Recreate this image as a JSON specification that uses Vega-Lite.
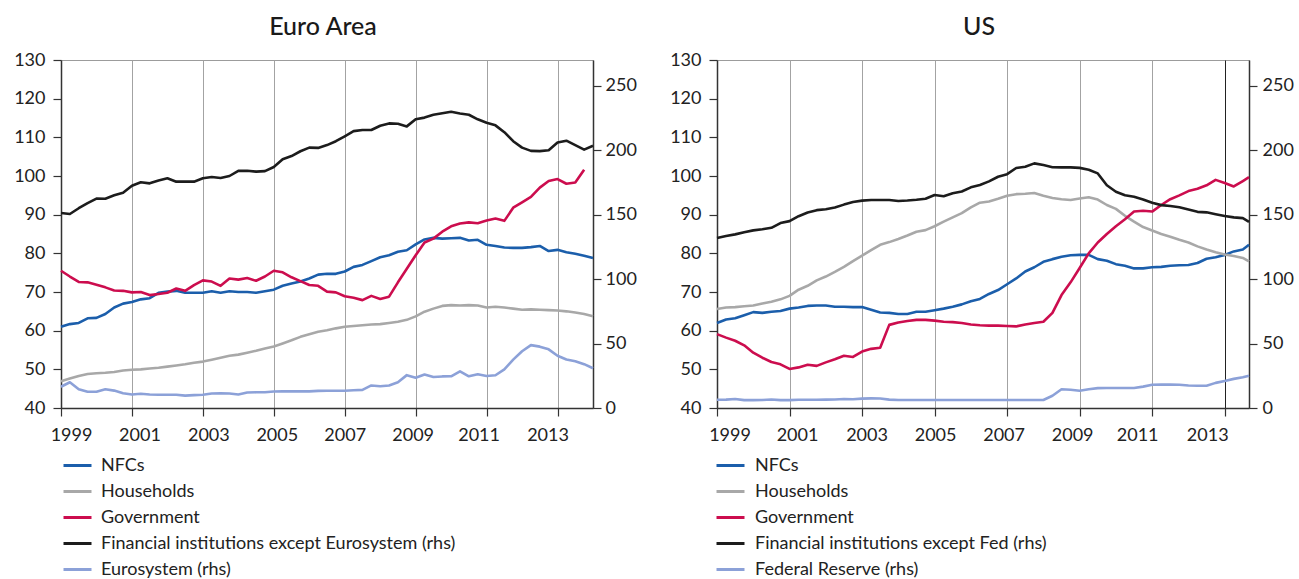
{
  "$schema": "https://vega.github.io/schema/vega-lite/v6.json",
  "background": "white",
  "padding": {"left": 13, "top": 14, "right": 5, "bottom": 5},
  "bounds": "flush",
  "spacing": 124,
  "datasets": {
    "ea": [
      {"t": 1999.0, "nfc": 61.0, "hh": 46.9, "gov": 75.5, "fin": 151.3, "cb": 16.5},
      {"t": 1999.25, "nfc": 61.7, "hh": 47.6, "gov": 74.0, "fin": 150.5, "cb": 20.0},
      {"t": 1999.5, "nfc": 62.0, "hh": 48.3, "gov": 72.6, "fin": 155.0, "cb": 14.6},
      {"t": 1999.75, "nfc": 63.2, "hh": 48.8, "gov": 72.5, "fin": 159.0, "cb": 12.6},
      {"t": 2000.0, "nfc": 63.3, "hh": 49.0, "gov": 71.9, "fin": 162.5, "cb": 12.6},
      {"t": 2000.25, "nfc": 64.3, "hh": 49.1, "gov": 71.2, "fin": 162.4, "cb": 14.5},
      {"t": 2000.5, "nfc": 66.0, "hh": 49.3, "gov": 70.4, "fin": 165.0, "cb": 13.5},
      {"t": 2000.75, "nfc": 67.0, "hh": 49.7, "gov": 70.3, "fin": 167.0, "cb": 11.5},
      {"t": 2001.0, "nfc": 67.4, "hh": 49.9, "gov": 69.9, "fin": 172.5, "cb": 10.5},
      {"t": 2001.25, "nfc": 68.1, "hh": 50.0, "gov": 70.0, "fin": 175.2, "cb": 11.0},
      {"t": 2001.5, "nfc": 68.4, "hh": 50.2, "gov": 69.2, "fin": 174.3, "cb": 10.5},
      {"t": 2001.75, "nfc": 69.8, "hh": 50.4, "gov": 69.5, "fin": 176.5, "cb": 10.3},
      {"t": 2002.0, "nfc": 70.1, "hh": 50.7, "gov": 69.8, "fin": 178.2, "cb": 10.3},
      {"t": 2002.25, "nfc": 70.3, "hh": 51.0, "gov": 70.9, "fin": 175.6, "cb": 10.3},
      {"t": 2002.5, "nfc": 69.8, "hh": 51.3, "gov": 70.3, "fin": 175.6, "cb": 9.6},
      {"t": 2002.75, "nfc": 69.8, "hh": 51.7, "gov": 71.8, "fin": 175.6, "cb": 10.0},
      {"t": 2003.0, "nfc": 69.8, "hh": 52.0, "gov": 73.0, "fin": 178.2, "cb": 10.3},
      {"t": 2003.25, "nfc": 70.2, "hh": 52.5, "gov": 72.7, "fin": 179.2, "cb": 11.3},
      {"t": 2003.5, "nfc": 69.8, "hh": 53.0, "gov": 71.6, "fin": 178.4, "cb": 11.4},
      {"t": 2003.75, "nfc": 70.2, "hh": 53.5, "gov": 73.5, "fin": 180.0, "cb": 11.3},
      {"t": 2004.0, "nfc": 70.0, "hh": 53.8, "gov": 73.2, "fin": 184.0, "cb": 10.5},
      {"t": 2004.25, "nfc": 70.0, "hh": 54.3, "gov": 73.6, "fin": 184.1, "cb": 12.0},
      {"t": 2004.5, "nfc": 69.8, "hh": 54.8, "gov": 72.9, "fin": 183.4, "cb": 12.2},
      {"t": 2004.75, "nfc": 70.2, "hh": 55.4, "gov": 74.0, "fin": 183.8, "cb": 12.2},
      {"t": 2005.0, "nfc": 70.6, "hh": 55.9, "gov": 75.5, "fin": 187.0, "cb": 12.8},
      {"t": 2005.25, "nfc": 71.6, "hh": 56.7, "gov": 75.1, "fin": 193.0, "cb": 12.9},
      {"t": 2005.5, "nfc": 72.2, "hh": 57.5, "gov": 73.8, "fin": 195.5, "cb": 12.9},
      {"t": 2005.75, "nfc": 72.7, "hh": 58.4, "gov": 72.8, "fin": 199.2, "cb": 12.9},
      {"t": 2006.0, "nfc": 73.5, "hh": 59.1, "gov": 71.8, "fin": 202.0, "cb": 12.9},
      {"t": 2006.25, "nfc": 74.5, "hh": 59.7, "gov": 71.6, "fin": 201.8, "cb": 13.3},
      {"t": 2006.5, "nfc": 74.7, "hh": 60.1, "gov": 70.1, "fin": 204.0, "cb": 13.4},
      {"t": 2006.75, "nfc": 74.7, "hh": 60.6, "gov": 69.9, "fin": 207.0, "cb": 13.4},
      {"t": 2007.0, "nfc": 75.3, "hh": 61.0, "gov": 68.9, "fin": 210.8, "cb": 13.4},
      {"t": 2007.25, "nfc": 76.5, "hh": 61.2, "gov": 68.5, "fin": 214.8, "cb": 13.8},
      {"t": 2007.5, "nfc": 77.0, "hh": 61.4, "gov": 67.9, "fin": 215.7, "cb": 14.1},
      {"t": 2007.75, "nfc": 78.0, "hh": 61.6, "gov": 69.0, "fin": 215.7, "cb": 17.5},
      {"t": 2008.0, "nfc": 79.0, "hh": 61.7, "gov": 68.2, "fin": 219.0, "cb": 16.9},
      {"t": 2008.25, "nfc": 79.5, "hh": 62.0, "gov": 68.8, "fin": 220.8, "cb": 17.5},
      {"t": 2008.5, "nfc": 80.4, "hh": 62.3, "gov": 72.5, "fin": 220.5, "cb": 20.0},
      {"t": 2008.75, "nfc": 80.8, "hh": 62.8, "gov": 76.0, "fin": 218.5, "cb": 25.5},
      {"t": 2009.0, "nfc": 82.3, "hh": 63.7, "gov": 79.5, "fin": 224.0, "cb": 23.5},
      {"t": 2009.25, "nfc": 83.6, "hh": 64.9, "gov": 82.8, "fin": 225.3, "cb": 26.0},
      {"t": 2009.5, "nfc": 84.0, "hh": 65.7, "gov": 83.8, "fin": 227.5, "cb": 24.0},
      {"t": 2009.75, "nfc": 83.8, "hh": 66.4, "gov": 85.6, "fin": 228.7, "cb": 24.5},
      {"t": 2010.0, "nfc": 83.9, "hh": 66.6, "gov": 87.0, "fin": 229.8, "cb": 24.6},
      {"t": 2010.25, "nfc": 84.0, "hh": 66.5, "gov": 87.7, "fin": 228.5, "cb": 28.5},
      {"t": 2010.5, "nfc": 83.3, "hh": 66.6, "gov": 88.0, "fin": 227.5, "cb": 24.6},
      {"t": 2010.75, "nfc": 83.5, "hh": 66.5, "gov": 87.8, "fin": 224.0, "cb": 26.2},
      {"t": 2011.0, "nfc": 82.2, "hh": 66.0, "gov": 88.5, "fin": 221.3, "cb": 24.8},
      {"t": 2011.25, "nfc": 81.9, "hh": 66.2, "gov": 89.0, "fin": 219.3, "cb": 25.4},
      {"t": 2011.5, "nfc": 81.5, "hh": 66.0, "gov": 88.4, "fin": 214.0, "cb": 30.0},
      {"t": 2011.75, "nfc": 81.4, "hh": 65.7, "gov": 91.8, "fin": 207.0, "cb": 37.5},
      {"t": 2012.0, "nfc": 81.4, "hh": 65.4, "gov": 93.2, "fin": 202.0, "cb": 44.0},
      {"t": 2012.25, "nfc": 81.6, "hh": 65.5, "gov": 94.6, "fin": 199.5, "cb": 48.8},
      {"t": 2012.5, "nfc": 81.9, "hh": 65.4, "gov": 97.0, "fin": 199.3, "cb": 47.6},
      {"t": 2012.75, "nfc": 80.6, "hh": 65.3, "gov": 98.7, "fin": 200.0, "cb": 45.5},
      {"t": 2013.0, "nfc": 80.9, "hh": 65.2, "gov": 99.2, "fin": 206.0, "cb": 40.5},
      {"t": 2013.25, "nfc": 80.3, "hh": 65.0, "gov": 98.0, "fin": 207.4, "cb": 37.6},
      {"t": 2013.5, "nfc": 79.9, "hh": 64.7, "gov": 98.3, "fin": 204.0, "cb": 36.2},
      {"t": 2013.75, "nfc": 79.4, "hh": 64.3, "gov": 101.6, "fin": 200.5, "cb": 34.0},
      {"t": 2014.0, "nfc": 78.8, "hh": 63.7, "gov": null, "fin": 203.5, "cb": 30.8}
    ],
    "us": [
      {"t": 1999.0, "nfc": 62.0, "hh": 65.6, "gov": 59.1, "fin": 131.9, "cb": 6.4},
      {"t": 1999.25, "nfc": 62.9, "hh": 66.0, "gov": 58.2, "fin": 133.5, "cb": 6.5},
      {"t": 1999.5, "nfc": 63.2, "hh": 66.1, "gov": 57.4, "fin": 134.7, "cb": 7.0},
      {"t": 1999.75, "nfc": 64.0, "hh": 66.3, "gov": 56.2, "fin": 136.4, "cb": 6.1},
      {"t": 2000.0, "nfc": 64.8, "hh": 66.5, "gov": 54.3, "fin": 137.8, "cb": 6.1},
      {"t": 2000.25, "nfc": 64.6, "hh": 67.0, "gov": 53.0, "fin": 138.7, "cb": 6.2},
      {"t": 2000.5, "nfc": 64.9, "hh": 67.5, "gov": 51.9, "fin": 139.8, "cb": 6.6},
      {"t": 2000.75, "nfc": 65.1, "hh": 68.1, "gov": 51.3, "fin": 143.5, "cb": 6.1},
      {"t": 2001.0, "nfc": 65.7, "hh": 69.0, "gov": 50.1, "fin": 145.0, "cb": 6.1},
      {"t": 2001.25, "nfc": 66.0, "hh": 70.6, "gov": 50.5, "fin": 148.8, "cb": 6.4},
      {"t": 2001.5, "nfc": 66.4, "hh": 71.6, "gov": 51.2, "fin": 151.7, "cb": 6.4},
      {"t": 2001.75, "nfc": 66.5, "hh": 73.0, "gov": 50.9, "fin": 153.5, "cb": 6.4},
      {"t": 2002.0, "nfc": 66.5, "hh": 74.0, "gov": 51.8, "fin": 154.2, "cb": 6.5},
      {"t": 2002.25, "nfc": 66.2, "hh": 75.2, "gov": 52.6, "fin": 155.5, "cb": 6.6},
      {"t": 2002.5, "nfc": 66.2, "hh": 76.5, "gov": 53.5, "fin": 157.8, "cb": 7.0},
      {"t": 2002.75, "nfc": 66.1, "hh": 78.0, "gov": 53.2, "fin": 159.8, "cb": 6.8},
      {"t": 2003.0, "nfc": 66.1, "hh": 79.4, "gov": 54.6, "fin": 160.9, "cb": 7.3},
      {"t": 2003.25, "nfc": 65.4, "hh": 80.8, "gov": 55.3, "fin": 161.4, "cb": 7.5},
      {"t": 2003.5, "nfc": 64.7, "hh": 82.2, "gov": 55.6, "fin": 161.4, "cb": 7.4},
      {"t": 2003.75, "nfc": 64.6, "hh": 82.9, "gov": 61.5, "fin": 161.4, "cb": 6.5},
      {"t": 2004.0, "nfc": 64.3, "hh": 83.7, "gov": 62.1, "fin": 160.6, "cb": 6.2},
      {"t": 2004.25, "nfc": 64.3, "hh": 84.6, "gov": 62.5, "fin": 161.0, "cb": 6.2},
      {"t": 2004.5, "nfc": 64.9, "hh": 85.6, "gov": 62.8, "fin": 161.6, "cb": 6.2},
      {"t": 2004.75, "nfc": 64.9, "hh": 86.0, "gov": 62.8, "fin": 162.4, "cb": 6.2},
      {"t": 2005.0, "nfc": 65.3, "hh": 87.0, "gov": 62.6, "fin": 165.3, "cb": 6.2},
      {"t": 2005.25, "nfc": 65.7, "hh": 88.2, "gov": 62.3, "fin": 164.3, "cb": 6.2},
      {"t": 2005.5, "nfc": 66.2, "hh": 89.3, "gov": 62.2, "fin": 166.6, "cb": 6.2},
      {"t": 2005.75, "nfc": 66.8, "hh": 90.4, "gov": 62.0, "fin": 168.0, "cb": 6.2},
      {"t": 2006.0, "nfc": 67.6, "hh": 91.9, "gov": 61.6, "fin": 171.2, "cb": 6.2},
      {"t": 2006.25, "nfc": 68.2, "hh": 93.1, "gov": 61.4, "fin": 173.0, "cb": 6.2},
      {"t": 2006.5, "nfc": 69.5, "hh": 93.4, "gov": 61.3, "fin": 175.8, "cb": 6.2},
      {"t": 2006.75, "nfc": 70.5, "hh": 94.1, "gov": 61.3, "fin": 179.4, "cb": 6.2},
      {"t": 2007.0, "nfc": 72.0, "hh": 94.9, "gov": 61.2, "fin": 181.4, "cb": 6.2},
      {"t": 2007.25, "nfc": 73.5, "hh": 95.3, "gov": 61.1, "fin": 186.2, "cb": 6.2},
      {"t": 2007.5, "nfc": 75.3, "hh": 95.4, "gov": 61.6, "fin": 187.2, "cb": 6.2},
      {"t": 2007.75, "nfc": 76.4, "hh": 95.6, "gov": 62.0, "fin": 189.8, "cb": 6.2},
      {"t": 2008.0, "nfc": 77.8, "hh": 94.9, "gov": 62.3, "fin": 188.5, "cb": 6.2},
      {"t": 2008.25, "nfc": 78.5, "hh": 94.3, "gov": 64.6, "fin": 186.8, "cb": 9.5},
      {"t": 2008.5, "nfc": 79.1, "hh": 94.0, "gov": 69.2, "fin": 186.7, "cb": 14.5},
      {"t": 2008.75, "nfc": 79.5, "hh": 93.8, "gov": 72.5, "fin": 186.7, "cb": 14.2},
      {"t": 2009.0, "nfc": 79.6, "hh": 94.2, "gov": 76.2, "fin": 186.3, "cb": 13.4},
      {"t": 2009.25, "nfc": 79.6, "hh": 94.5, "gov": 80.0, "fin": 184.9, "cb": 14.6},
      {"t": 2009.5, "nfc": 78.5, "hh": 93.9, "gov": 82.8, "fin": 182.0, "cb": 15.4},
      {"t": 2009.75, "nfc": 78.1, "hh": 92.5, "gov": 85.0, "fin": 172.8, "cb": 15.5},
      {"t": 2010.0, "nfc": 77.2, "hh": 91.5, "gov": 87.0, "fin": 167.8, "cb": 15.5},
      {"t": 2010.25, "nfc": 76.8, "hh": 89.7, "gov": 88.8, "fin": 165.1, "cb": 15.5},
      {"t": 2010.5, "nfc": 76.1, "hh": 88.2, "gov": 90.8, "fin": 163.9, "cb": 15.5},
      {"t": 2010.75, "nfc": 76.1, "hh": 86.8, "gov": 91.0, "fin": 161.8, "cb": 16.6},
      {"t": 2011.0, "nfc": 76.4, "hh": 85.9, "gov": 90.8, "fin": 159.3, "cb": 18.0},
      {"t": 2011.25, "nfc": 76.5, "hh": 85.0, "gov": 92.5, "fin": 157.4, "cb": 18.1},
      {"t": 2011.5, "nfc": 76.8, "hh": 84.3, "gov": 94.0, "fin": 156.7, "cb": 18.1},
      {"t": 2011.75, "nfc": 76.9, "hh": 83.5, "gov": 95.0, "fin": 155.8, "cb": 18.0},
      {"t": 2012.0, "nfc": 77.0, "hh": 82.8, "gov": 96.1, "fin": 154.0, "cb": 17.4},
      {"t": 2012.25, "nfc": 77.5, "hh": 81.8, "gov": 96.7, "fin": 152.2, "cb": 17.3},
      {"t": 2012.5, "nfc": 78.6, "hh": 81.0, "gov": 97.6, "fin": 151.8, "cb": 17.3},
      {"t": 2012.75, "nfc": 79.0, "hh": 80.3, "gov": 99.0, "fin": 150.4, "cb": 19.5},
      {"t": 2013.0, "nfc": 79.6, "hh": 79.7, "gov": 98.2, "fin": 149.0, "cb": 21.0},
      {"t": 2013.25, "nfc": 80.5, "hh": 79.3, "gov": 97.3, "fin": 147.9, "cb": 22.6},
      {"t": 2013.5, "nfc": 81.0, "hh": 78.8, "gov": 98.7, "fin": 147.3, "cb": 23.8},
      {"t": 2013.67, "nfc": 82.2, "hh": 77.9, "gov": 99.7, "fin": 144.5, "cb": 25.1}
    ]
  },
  "hconcat": [
    {
      "title": {"text": "Euro Area", "dx": -4},
      "width": 532,
      "height": 348,
      "data": {"name": "ea"},
      "layer": [
        {
          "transform": [{"fold": ["nfc", "hh", "gov"], "as": ["k", "v"]}],
          "mark": {"type": "line", "strokeWidth": 2.6},
          "encoding": {
            "x": {"field": "t", "type": "quantitative", "scale": {"domain": [1999, 2014], "nice": false, "zero": false},
              "axis": {"title": null, "values": [1999, 2001, 2003, 2005, 2007, 2009, 2011, 2013], "format": "d", "grid": true, "labelFlush": false, "labelOverlap": false, "labelPadding": 10,
                "labelOffset": {"condition": [{"test": "datum.value == 1999", "value": 10}, {"test": "datum.value == 2001", "value": 7.5}, {"test": "datum.value == 2003", "value": 5.5}, {"test": "datum.value == 2005", "value": 3}, {"test": "datum.value == 2007", "value": 0}, {"test": "datum.value == 2009", "value": -3}, {"test": "datum.value == 2011", "value": -8}], "value": -10}}},
            "y": {"field": "v", "type": "quantitative", "scale": {"domain": [40, 130], "nice": false, "zero": false},
              "axis": {"title": null, "values": [40, 50, 60, 70, 80, 90, 100, 110, 120, 130], "grid": false, "labelPadding": 8}},
            "color": {"field": "k", "type": "nominal",
              "scale": {"domain": ["nfc", "hh", "gov", "fin", "cb"], "range": ["#1b5eab", "#a8a8a8", "#cc0d4e", "#1c1c1c", "#8ca1d8"]},
              "legend": {"title": null, "orient": "none", "legendX": 1, "legendY": 390, "direction": "vertical", "labelOffset": 8, "symbolSize": 784,
                "labelExpr": "datum.label == 'nfc' ? 'NFCs' : datum.label == 'hh' ? 'Households' : datum.label == 'gov' ? 'Government' : datum.label == 'fin' ? 'Financial institutions except Eurosystem (rhs)' : 'Eurosystem (rhs)'"}}
          }
        },
        {
          "transform": [{"fold": ["fin", "cb"], "as": ["k", "v"]}],
          "mark": {"type": "line", "strokeWidth": 2.6},
          "encoding": {
            "x": {"field": "t", "type": "quantitative", "scale": {"domain": [1999, 2014], "nice": false, "zero": false},
              "axis": {"title": null, "values": [1999, 2001, 2003, 2005, 2007, 2009, 2011, 2013], "format": "d", "grid": true, "labelFlush": false, "labelOverlap": false, "labelPadding": 10,
                "labelOffset": {"condition": [{"test": "datum.value == 1999", "value": 10}, {"test": "datum.value == 2001", "value": 7.5}, {"test": "datum.value == 2003", "value": 5.5}, {"test": "datum.value == 2005", "value": 3}, {"test": "datum.value == 2007", "value": 0}, {"test": "datum.value == 2009", "value": -3}, {"test": "datum.value == 2011", "value": -8}], "value": -10}}},
            "y": {"field": "v", "type": "quantitative", "scale": {"domain": [0, 270], "nice": false, "zero": false},
              "axis": {"title": null, "orient": "right", "values": [0, 50, 100, 150, 200, 250], "grid": false, "labelPadding": 4}},
            "color": {"field": "k", "type": "nominal",
              "scale": {"domain": ["nfc", "hh", "gov", "fin", "cb"], "range": ["#1b5eab", "#a8a8a8", "#cc0d4e", "#1c1c1c", "#8ca1d8"]},
              "legend": {"title": null, "orient": "none", "legendX": 1, "legendY": 390, "direction": "vertical", "labelOffset": 8, "symbolSize": 784,
                "labelExpr": "datum.label == 'nfc' ? 'NFCs' : datum.label == 'hh' ? 'Households' : datum.label == 'gov' ? 'Government' : datum.label == 'fin' ? 'Financial institutions except Eurosystem (rhs)' : 'Eurosystem (rhs)'"}}
          }
        }
      ],
      "resolve": {"scale": {"y": "independent"}}
    },
    {
      "title": {"text": "US", "dx": -4},
      "width": 532,
      "height": 348,
      "data": {"name": "us"},
      "layer": [
        {
          "transform": [{"fold": ["nfc", "hh", "gov"], "as": ["k", "v"]}],
          "mark": {"type": "line", "strokeWidth": 2.6},
          "encoding": {
            "x": {"field": "t", "type": "quantitative", "scale": {"domain": [1999, 2013.67], "nice": false, "zero": false},
              "axis": {"title": null, "values": [1999, 2001, 2003, 2005, 2007, 2009, 2011, 2013], "format": "d", "grid": true, "labelFlush": false, "labelOverlap": false, "labelPadding": 10,
                "gridColor": {"condition": {"test": "datum.value == 2013", "value": "#222222"}, "value": "#a3a3a3"},
                "labelOffset": {"condition": [{"test": "datum.value == 1999", "value": 12.5}, {"test": "datum.value == 2001", "value": 7.5}, {"test": "datum.value == 2003", "value": 4.5}, {"test": "datum.value == 2005", "value": 0.5}, {"test": "datum.value == 2007", "value": -3.5}, {"test": "datum.value == 2009", "value": -7.5}, {"test": "datum.value == 2011", "value": -15}], "value": -17.5}}},
            "y": {"field": "v", "type": "quantitative", "scale": {"domain": [40, 130], "nice": false, "zero": false},
              "axis": {"title": null, "values": [40, 50, 60, 70, 80, 90, 100, 110, 120, 130], "grid": false, "labelPadding": 8}},
            "color": {"field": "k", "type": "nominal",
              "scale": {"domain": ["nfc", "hh", "gov", "fin", "cb"], "range": ["#1b5eab", "#a8a8a8", "#cc0d4e", "#1c1c1c", "#8ca1d8"]},
              "legend": {"title": null, "orient": "none", "legendX": -2, "legendY": 390, "direction": "vertical", "labelOffset": 9, "symbolSize": 784,
                "labelExpr": "datum.label == 'nfc' ? 'NFCs' : datum.label == 'hh' ? 'Households' : datum.label == 'gov' ? 'Government' : datum.label == 'fin' ? 'Financial institutions except Fed (rhs)' : 'Federal Reserve (rhs)'"}}
          }
        },
        {
          "transform": [{"fold": ["fin", "cb"], "as": ["k", "v"]}],
          "mark": {"type": "line", "strokeWidth": 2.6},
          "encoding": {
            "x": {"field": "t", "type": "quantitative", "scale": {"domain": [1999, 2013.67], "nice": false, "zero": false},
              "axis": {"title": null, "values": [1999, 2001, 2003, 2005, 2007, 2009, 2011, 2013], "format": "d", "grid": true, "labelFlush": false, "labelOverlap": false, "labelPadding": 10,
                "gridColor": {"condition": {"test": "datum.value == 2013", "value": "#222222"}, "value": "#a3a3a3"},
                "labelOffset": {"condition": [{"test": "datum.value == 1999", "value": 12.5}, {"test": "datum.value == 2001", "value": 7.5}, {"test": "datum.value == 2003", "value": 4.5}, {"test": "datum.value == 2005", "value": 0.5}, {"test": "datum.value == 2007", "value": -3.5}, {"test": "datum.value == 2009", "value": -7.5}, {"test": "datum.value == 2011", "value": -15}], "value": -17.5}}},
            "y": {"field": "v", "type": "quantitative", "scale": {"domain": [0, 270], "nice": false, "zero": false},
              "axis": {"title": null, "orient": "right", "values": [0, 50, 100, 150, 200, 250], "grid": false, "labelPadding": 5}},
            "color": {"field": "k", "type": "nominal",
              "scale": {"domain": ["nfc", "hh", "gov", "fin", "cb"], "range": ["#1b5eab", "#a8a8a8", "#cc0d4e", "#1c1c1c", "#8ca1d8"]},
              "legend": {"title": null, "orient": "none", "legendX": -2, "legendY": 390, "direction": "vertical", "labelOffset": 9, "symbolSize": 784,
                "labelExpr": "datum.label == 'nfc' ? 'NFCs' : datum.label == 'hh' ? 'Households' : datum.label == 'gov' ? 'Government' : datum.label == 'fin' ? 'Financial institutions except Fed (rhs)' : 'Federal Reserve (rhs)'"}}
          }
        }
      ],
      "resolve": {"scale": {"y": "independent"}}
    }
  ],
  "resolve": {"scale": {"color": "independent", "x": "independent"}, "legend": {"color": "independent"}},
  "config": {
    "font": "Lato",
    "view": {"stroke": "#9c9c9c", "strokeWidth": 1},
    "axis": {"labelFont": "Lato", "labelFontSize": 18, "labelColor": "#222222", "domainColor": "#333333", "domainWidth": 1.5, "tickColor": "#333333", "tickWidth": 1.2, "tickSize": 8, "gridColor": "#a3a3a3", "gridWidth": 1},
    "legend": {"labelFont": "Lato", "labelFontSize": 18, "labelLimit": 0, "labelColor": "#222222", "symbolType": "stroke", "symbolSize": 900, "symbolStrokeWidth": 3, "labelOffset": 10, "rowPadding": 1, "padding": 0, "symbolOpacity": 1},
    "title": {"font": "Lato", "fontSize": 25, "fontWeight": 500, "color": "#1a1a1a", "anchor": "middle", "offset": 11},
    "line": {"strokeCap": "butt", "strokeJoin": "round"}
  }
}
